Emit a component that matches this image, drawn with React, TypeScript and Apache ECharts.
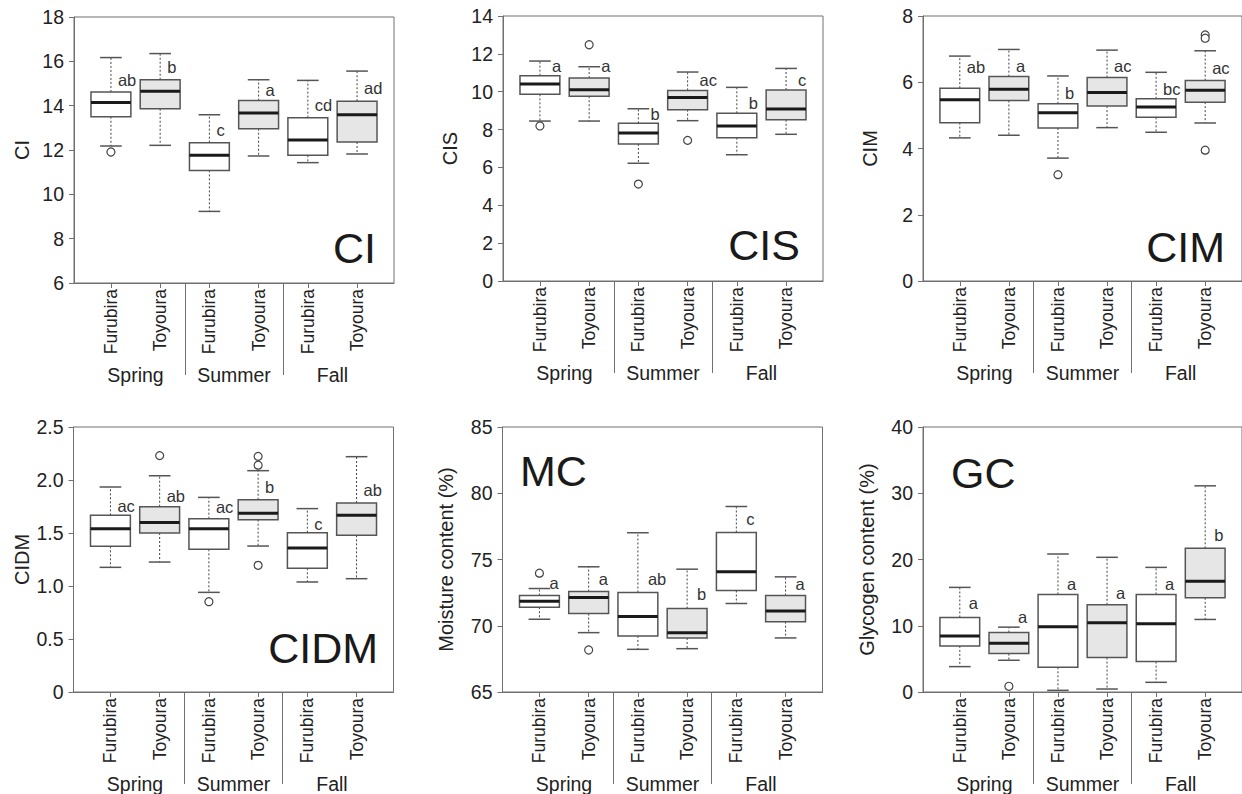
import React, { useEffect, useRef } from 'react';
import * as echarts from 'echarts';

const seasons = ['Spring', 'Summer', 'Fall'];
const sites = ['Furubira', 'Toyoura'];
const groups = seasons.flatMap((s) => sites.map((t) => `${s} ${t}`));

// each row: [lower whisker, Q1, median, Q3, upper whisker]
const ciBox = [
  [12.18, 13.5, 14.14, 14.62, 16.17],
  [12.21, 13.86, 14.65, 15.17, 16.35],
  [9.23, 11.08, 11.76, 12.33, 13.59],
  [11.73, 12.96, 13.67, 14.23, 15.17],
  [11.43, 11.76, 12.45, 13.46, 15.14],
  [11.82, 12.36, 13.59, 14.2, 15.56],
];
const ciOutliers = [[0, 11.91]];
const ciLetters = ['ab', 'b', 'c', 'a', 'cd', 'ad'];
const ciLetterY = [15.14, 15.74, 12.89, 14.72, 14.05, 14.8];

const cisBox = [
  [8.45, 9.86, 10.41, 10.85, 11.62],
  [8.45, 9.76, 10.11, 10.72, 11.32],
  [6.22, 7.24, 7.82, 8.33, 9.1],
  [8.47, 9.05, 9.7, 10.07, 11.04],
  [6.67, 7.57, 8.19, 8.86, 10.23],
  [7.75, 8.52, 9.09, 10.09, 11.23],
];
const cisOutliers = [[0, 8.19], [1, 12.48], [2, 5.12], [3, 7.43]];
const cisLetters = ['a', 'a', 'b', 'ac', 'b', 'c'];
const cisLetterY = [11.36, 11.36, 8.82, 10.62, 9.42, 10.62];

const cimBox = [
  [4.32, 4.78, 5.47, 5.82, 6.79],
  [4.4, 5.45, 5.79, 6.17, 6.99],
  [3.71, 4.62, 5.08, 5.35, 6.19],
  [4.63, 5.28, 5.69, 6.14, 6.97],
  [4.49, 4.94, 5.25, 5.5, 6.3],
  [4.77, 5.4, 5.76, 6.05, 6.95],
];
const cimOutliers = [[2, 3.21], [5, 7.43], [5, 7.33], [5, 3.95]];
const cimLetters = ['ab', 'a', 'b', 'ac', 'bc', 'ac'];
const cimLetterY = [6.47, 6.5, 5.69, 6.49, 5.79, 6.42];

const cidmBox = [
  [1.176, 1.374, 1.541, 1.667, 1.934],
  [1.226, 1.5, 1.6, 1.748, 2.04],
  [0.94, 1.346, 1.541, 1.635, 1.836],
  [1.377, 1.626, 1.686, 1.814, 2.088],
  [1.038, 1.167, 1.358, 1.503, 1.73],
  [1.069, 1.478, 1.667, 1.783, 2.22],
];
const cidmOutliers = [[1, 2.23], [2, 0.852], [3, 2.223], [3, 2.14], [3, 1.195]];
const cidmLetters = ['ac', 'ab', 'ac', 'b', 'c', 'ab'];
const cidmLetterY = [1.758, 1.846, 1.742, 1.934, 1.585, 1.902];

const mcBox = [
  [70.49, 71.4, 71.85, 72.28, 72.81],
  [69.48, 70.92, 72.13, 72.58, 74.45],
  [68.22, 69.23, 70.69, 72.51, 77.02],
  [68.27, 69.08, 69.48, 71.3, 74.27],
  [71.68, 72.66, 74.07, 77.04, 79.0],
  [69.08, 70.31, 71.12, 72.28, 73.69],
];
const mcOutliers = [[0, 73.97], [1, 68.17]];
const mcLetters = ['a', 'a', 'ab', 'b', 'c', 'a'];
const mcLetterY = [73.21, 73.54, 73.54, 72.38, 78.05, 73.14];

const gcBox = [
  [3.83, 6.96, 8.47, 11.25, 15.79],
  [4.79, 5.8, 7.36, 8.98, 9.79],
  [0.25, 3.73, 9.84, 14.73, 20.83],
  [0.45, 5.2, 10.44, 13.17, 20.33],
  [1.46, 4.59, 10.29, 14.73, 18.81],
  [10.95, 14.22, 16.7, 21.69, 31.12],
];
const gcOutliers = [[1, 0.86]];
const gcLetters = ['a', 'a', 'a', 'a', 'a', 'b'];
const gcLetterY = [13.37, 11.35, 16.29, 14.98, 16.29, 23.71];

const FONT = "'Liberation Sans', Arial, Helvetica, sans-serif";
const FRAME = '#707070';
const BOXLINE = '#555555';
const TEXT = '#222222';

const panels = [
  { axisName: 'CI', tag: 'CI', box: ciBox, out: ciOutliers, letters: ciLetters, letterY: ciLetterY,
    min: 6, max: 18, interval: 2, dec: 0,
    grid: { left: 74, top: 17, width: 320, height: 266 }, nameGap: 42, letterDx: 7,
    tagPos: { x: 376, y: 248, align: 'right' } },
  { axisName: 'CIS', tag: 'CIS', box: cisBox, out: cisOutliers, letters: cisLetters, letterY: cisLetterY,
    min: 0, max: 14, interval: 2, dec: 0,
    grid: { left: 503, top: 16, width: 320, height: 265 }, nameGap: 43, letterDx: 12,
    tagPos: { x: 800, y: 245, align: 'right' } },
  { axisName: 'CIM', tag: 'CIM', box: cimBox, out: cimOutliers, letters: cimLetters, letterY: cimLetterY,
    min: 0, max: 8, interval: 2, dec: 0,
    grid: { left: 923, top: 16, width: 320, height: 265 }, nameGap: 43, letterDx: 7,
    tagPos: { x: 1225, y: 247, align: 'right' } },
  { axisName: 'CIDM', tag: 'CIDM', box: cidmBox, out: cidmOutliers, letters: cidmLetters, letterY: cidmLetterY,
    min: 0, max: 2.5, interval: 0.5, dec: 1,
    grid: { left: 73.5, top: 427, width: 320, height: 265 }, nameGap: 39, letterDx: 7,
    tagPos: { x: 378, y: 648, align: 'right' } },
  { axisName: 'Moisture content (%)', tag: 'MC', box: mcBox, out: mcOutliers, letters: mcLetters, letterY: mcLetterY,
    min: 65, max: 85, interval: 5, dec: 0,
    grid: { left: 502.5, top: 427, width: 320, height: 265 }, nameGap: 47, letterDx: 10,
    tagPos: { x: 520, y: 471, align: 'left' } },
  { axisName: 'Glycogen content (%)', tag: 'GC', box: gcBox, out: gcOutliers, letters: gcLetters, letterY: gcLetterY,
    min: 0, max: 40, interval: 10, dec: 0,
    grid: { left: 923, top: 427, width: 320, height: 265 }, nameGap: 46, letterDx: 9,
    tagPos: { x: 951, y: 473, align: 'left' } },
];

const siteTicks = groups.map((_, i) => i);
const seasonCenters = seasons.map((_, k) => k * sites.length + (sites.length - 1) / 2);
const seasonBounds = seasons.slice(1).map((_, k) => (k + 1) * sites.length - 0.5);
const X_MIN = -0.75;
const X_MAX = groups.length - 0.25;

function buildOption() {
  const grid: any[] = [];
  const xAxis: any[] = [];
  const yAxis: any[] = [];
  const series: any[] = [];
  const graphic: any[] = [];

  panels.forEach((p, i) => {
    grid.push({ ...p.grid, show: true, borderColor: FRAME, borderWidth: 1, backgroundColor: 'transparent', containLabel: false });
    xAxis.push({
      type: 'value', gridIndex: i, min: X_MIN, max: X_MAX, position: 'bottom',
      axisLine: { show: true, onZero: false, lineStyle: { color: FRAME, width: 1 } },
      axisTick: { show: true, customValues: siteTicks, length: 5, lineStyle: { color: FRAME, width: 1 } },
      axisLabel: {
        show: true, customValues: siteTicks, rotate: 90, margin: 6, fontSize: 17.5, color: TEXT, fontFamily: FONT,
        formatter: (v: number) => sites[Math.round(v) % sites.length],
      },
      splitLine: { show: false },
    });
    xAxis.push({
      type: 'value', gridIndex: i, min: X_MIN, max: X_MAX, position: 'bottom',
      axisLine: { show: false, onZero: false },
      axisTick: { show: true, customValues: seasonBounds, length: 92, lineStyle: { color: FRAME, width: 1 } },
      axisLabel: {
        show: true, customValues: seasonCenters, margin: 82, fontSize: 19.5, color: TEXT, fontFamily: FONT,
        formatter: (v: number) => seasons[Math.round((v - (sites.length - 1) / 2) / sites.length)],
      },
      splitLine: { show: false },
    });
    yAxis.push({
      type: 'value', gridIndex: i, min: p.min, max: p.max, interval: p.interval,
      name: p.axisName, nameLocation: 'middle', nameGap: p.nameGap,
      nameTextStyle: { fontSize: 20, color: TEXT, fontFamily: FONT },
      axisLine: { show: true, onZero: false, lineStyle: { color: FRAME, width: 1 } },
      axisTick: { show: true, length: 5, lineStyle: { color: FRAME, width: 1 } },
      axisLabel: {
        fontSize: 19.5, color: TEXT, fontFamily: FONT, margin: 10,
        formatter: (v: number) => (v === 0 ? '0' : v.toFixed(p.dec)),
      },
      splitLine: { show: false },
    });
    const letters = p.letters;
    const letterY = p.letterY;
    const dx = p.letterDx;
    series.push({
      type: 'custom', xAxisIndex: 2 * i, yAxisIndex: i, silent: true, clip: false,
      data: p.box.map((b, k) => [k, ...b]),
      encode: { x: 0, y: [1, 2, 3, 4, 5] },
      renderItem: (params: any, api: any) => {
        const x = api.value(0);
        const lo = api.coord([x, api.value(1)]);
        const q1 = api.coord([x, api.value(2)]);
        const med = api.coord([x, api.value(3)]);
        const q3 = api.coord([x, api.value(4)]);
        const hi = api.coord([x, api.value(5)]);
        const band = api.size([1, 0])[0];
        const bw = band * 0.81;
        const cw = band * 0.44;
        const cx = lo[0];
        const lp = api.coord([x, letterY[params.dataIndex]]);
        const dash = { stroke: '#444', lineWidth: 1, lineDash: [2, 2] };
        const cap = { stroke: BOXLINE, lineWidth: 1.5 };
        return {
          type: 'group',
          children: [
            { type: 'line', shape: { x1: cx, y1: q3[1], x2: cx, y2: hi[1] }, style: dash },
            { type: 'line', shape: { x1: cx, y1: q1[1], x2: cx, y2: lo[1] }, style: dash },
            { type: 'line', shape: { x1: cx - cw / 2, y1: hi[1], x2: cx + cw / 2, y2: hi[1] }, style: cap },
            { type: 'line', shape: { x1: cx - cw / 2, y1: lo[1], x2: cx + cw / 2, y2: lo[1] }, style: cap },
            {
              type: 'rect', shape: { x: cx - bw / 2, y: q3[1], width: bw, height: q1[1] - q3[1] },
              style: { fill: x % 2 === 1 ? '#e6e6e6' : '#ffffff', stroke: BOXLINE, lineWidth: 1.5 },
            },
            { type: 'line', shape: { x1: cx - bw / 2, y1: med[1], x2: cx + bw / 2, y2: med[1] }, style: { stroke: '#1a1a1a', lineWidth: 3 } },
            {
              type: 'text', x: cx + dx, y: lp[1],
              style: { text: letters[params.dataIndex], fill: '#333', fontSize: 16.5, fontFamily: FONT, align: 'left', verticalAlign: 'middle', textAlign: 'left', textVerticalAlign: 'middle' },
            },
          ],
        };
      },
      z: 2,
    });
    series.push({
      type: 'scatter', xAxisIndex: 2 * i, yAxisIndex: i, silent: true,
      data: p.out, symbol: 'circle', symbolSize: 8,
      itemStyle: { color: '#ffffff', borderColor: '#444', borderWidth: 1.2, opacity: 1 },
      z: 3,
    });
    graphic.push({
      type: 'text', x: p.tagPos.x, y: p.tagPos.y, silent: true,
      style: { text: p.tag, fill: '#1a1a1a', fontSize: 43, fontFamily: FONT, align: p.tagPos.align, verticalAlign: 'middle', textAlign: p.tagPos.align, textVerticalAlign: 'middle' },
    });
  });

  return { animation: false, backgroundColor: '#ffffff', grid, xAxis, yAxis, series, graphic };
}

export default function App() {
  const ref = useRef<HTMLDivElement>(null);
  useEffect(() => {
    if (!ref.current) return;
    const chart = echarts.init(ref.current, null, { renderer: 'svg' });
    chart.setOption(buildOption() as any);
    return () => chart.dispose();
  }, []);
  return (
    <div
      ref={ref}
      style={{ position: 'fixed', left: 0, top: 0, width: 1242, height: 794, background: '#fff' }}
    />
  );
}
